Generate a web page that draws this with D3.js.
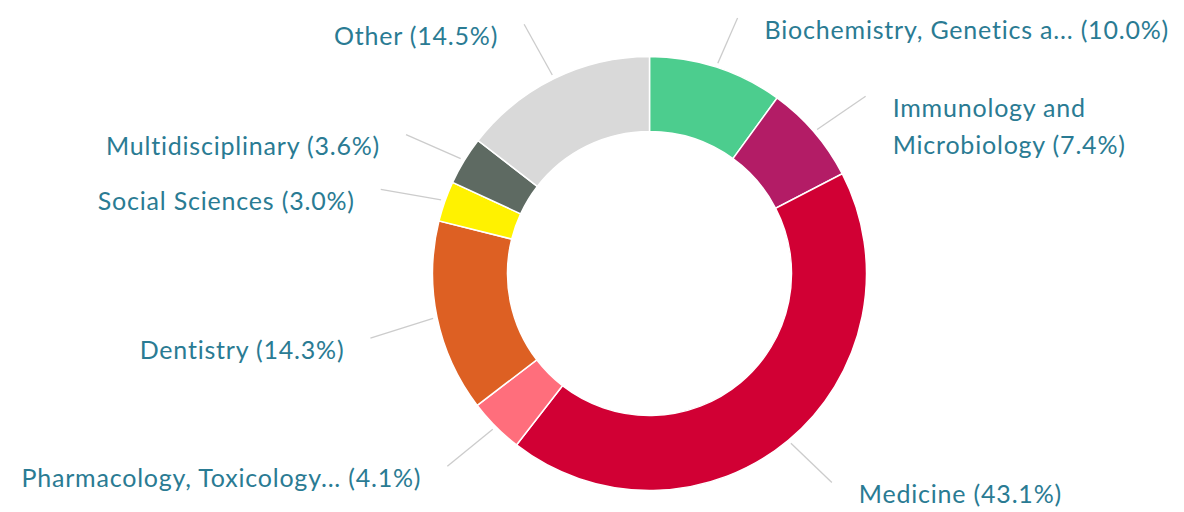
<!DOCTYPE html>
<html>
<head>
<meta charset="utf-8">
<script src="https://cdn.jsdelivr.net/npm/d3@7/dist/d3.min.js"></script>
<style>
  html, body { margin: 0; padding: 0; background: #fff; }
  svg { display: block; }
</style>
</head>
<body>
<div id="chart"></div>
<script>
// subject areas, clockwise from 12 o'clock
var categories = [
    'Biochemistry, Genetics a...',
    'Immunology and Microbiology',
    'Medicine',
    'Pharmacology, Toxicology...',
    'Dentistry',
    'Social Sciences',
    'Multidisciplinary',
    'Other'
];
var shares = [10.0, 7.4, 43.1, 4.1, 14.3, 3.0, 3.6, 14.5];
var colors = ['#4ccd8e', '#b31c66', '#d10034', '#ff6e7c', '#dd6023', '#fff200', '#5e6a62', '#d9d9d9'];

dim = {
    'width': 1184,
    'height': 512
};
var cx = 649.5, cy = 273.5;
var rOuter = 217, rInner = 142;

var svg = d3.select('#chart').append('svg')
    .attr('width', dim.width)
    .attr('height', dim.height);

var data = categories.map(function (c, i) {
    return { name: c, value: shares[i], color: colors[i] };
});

var pie = d3.pie()
    .value(d => d.value)
    .sort(null)
    .startAngle(0)
    .endAngle(2 * Math.PI);

var arc = d3.arc()
    .innerRadius(rInner)
    .outerRadius(rOuter);

var arcs = pie(data);

var g = svg.append('g')
    .attr('transform', 'translate(' + cx + ',' + cy + ')');

g.selectAll('path.slice')
    .data(arcs)
    .enter()
    .append('path')
    .attr('class', 'slice')
    .attr('d', arc)
    .attr('fill', d => d.data.color)
    .attr('stroke', '#fff')
    .attr('stroke-width', 1.5);

// label layout
var fontSize = 25;
var lineH = 37;
function mid(d) { return (d.startAngle + d.endAngle) / 2; }

var labels = arcs.map(function (d) {
    var a = mid(d);
    var c = Math.cos(a);
    var right = Math.sin(a) >= 0;
    var ex = 285 * Math.sin(a);
    // labels on the lower half sit a little closer in
    var ty = -(c > 0 ? 292 : 255) * c + 25;
    return { d: d, a: a, right: right, ex: ex, ty: ty };
});

// keep labels inside the picture and apart from each other
[true, false].forEach(function (side) {
    var list = labels.filter(l => l.right === side).sort((p, q) => p.ty - q.ty);
    var prev = -Infinity;
    list.forEach(function (l) {
        l.ty = Math.max(l.ty, 30 - cy, prev + 50);
        prev = l.ty;
    });
    list.forEach(function (l) { l.ty = Math.min(l.ty, 497 - cy); });
});

// leader lines
g.selectAll('line.lead')
    .data(labels)
    .enter()
    .append('line')
    .attr('class', 'lead')
    .attr('x1', l => (rOuter + 4) * Math.sin(l.a))
    .attr('y1', l => -(rOuter + 4) * Math.cos(l.a))
    .attr('x2', l => l.ex)
    .attr('y2', l => l.ty - 12)
    .attr('stroke', '#cccccc')
    .attr('stroke-width', 1.3);

var text = g.selectAll('text.lab')
    .data(labels)
    .enter()
    .append('text')
    .attr('class', 'lab')
    .attr('x', l => l.right ? l.ex + 27 : l.ex - 26)
    .attr('y', l => l.ty)
    .attr('dy', '0.35em')
    .attr('text-anchor', l => l.right ? 'start' : 'end')
    .attr('font-family', 'Lato, sans-serif')
    .attr('font-size', fontSize)
    .attr('letter-spacing', 0.8)
    .attr('fill', '#2a7b93');

// wrap words when the label would run out of the picture
text.each(function (l) {
    var el = d3.select(this);
    var full = l.d.data.name + ' (' + l.d.data.value.toFixed(1) + '%)';
    el.text(full);
    var room = l.right ? dim.width - 6 - (cx + l.ex + 27) : cx + l.ex - 26 - 6;
    if (this.getComputedTextLength() <= room) return;
    el.text(null);
    var words = full.split(' ');
    var line = [];
    var ts = el.append('tspan').attr('x', el.attr('x'));
    words.forEach(function (w) {
        line.push(w);
        ts.text(line.join(' '));
        if (ts.node().getComputedTextLength() > room && line.length > 1) {
            line.pop();
            ts.text(line.join(' '));
            line = [w];
            ts = el.append('tspan').attr('x', el.attr('x')).attr('dy', lineH).text(w);
        }
    });
});
</script>
</body>
</html>
